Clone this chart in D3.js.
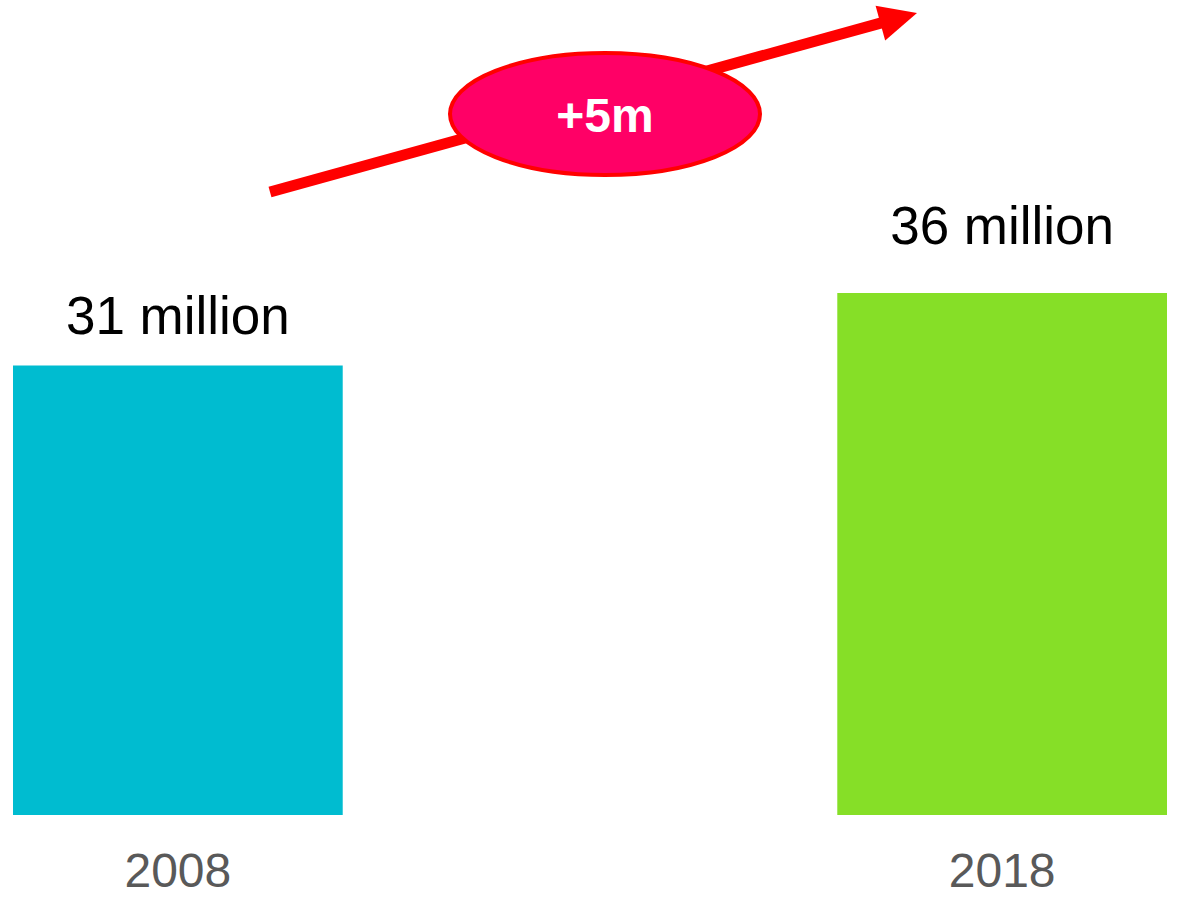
<!DOCTYPE html>
<html>
<head>
<meta charset="utf-8">
<script src="https://cdn.jsdelivr.net/npm/d3@7"></script>
<style>
  html, body { margin: 0; padding: 0; background: #fff; }
  svg { display: block; font-family: "Liberation Sans", Arial, sans-serif; }
</style>
</head>
<body>
<svg></svg>
<script>
var years = ["2008", "2018"];
var values = [31, 36];
var valueLabels = ["31 million", "36 million"];
var colors = ["#00BCD0", "#86DF27"];
var changeLabel = "+5m";

var width = 1179, height = 900;

var x = d3.scaleBand()
    .domain(years)
    .range([13, 1167])
    .paddingInner(0.6)
    .paddingOuter(0);

var y = d3.scaleLinear()
    .domain([0, 36])
    .range([815, 293]);

var svg = d3.select("svg")
    .attr("width", width)
    .attr("height", height);

svg.selectAll("rect.bar")
    .data(values)
    .enter().append("rect")
    .attr("class", "bar")
    .attr("x", function(d, i) { return x(years[i]); })
    .attr("y", function(d) { return y(d); })
    .attr("width", x.bandwidth())
    .attr("height", function(d) { return y(0) - y(d); })
    .style("fill", function(d, i) { return colors[i]; });

// value labels above bars (the second one sits a bit higher)
svg.selectAll("text.value")
    .data(values)
    .enter().append("text")
    .attr("class", "value")
    .attr("x", function(d, i) { return x(years[i]) + x.bandwidth() / 2; })
    .attr("y", function(d, i) { return y(d) - (i === 0 ? 32 : 49); })
    .attr("text-anchor", "middle")
    .style("font-size", "53px")
    .style("fill", "#000")
    .text(function(d, i) { return valueLabels[i]; });

// year labels below
var xAxis = svg.append("g")
    .attr("class", "axis axis--x");

xAxis.selectAll("text")
    .data(years)
    .enter().append("text")
    .attr("x", function(d) { return x(d) + x.bandwidth() / 2; })
    .attr("y", 887)
    .attr("text-anchor", "middle")
    .style("font-size", "48px")
    .style("fill", "#595959")
    .text(function(d) { return d; });

// trend arrow
var x0 = 270, y0 = 192, x1 = 917, y1 = 13;
var ang = Math.atan2(y1 - y0, x1 - x0);
var headLen = 38, headHalf = 18;
var bx = x1 - headLen * Math.cos(ang), by = y1 - headLen * Math.sin(ang);
var nx = -Math.sin(ang), ny = Math.cos(ang);

svg.append("line")
    .attr("x1", x0).attr("y1", y0)
    .attr("x2", bx + 2 * Math.cos(ang)).attr("y2", by + 2 * Math.sin(ang))
    .style("stroke", "#FF0000")
    .style("stroke-width", 11);

svg.append("polygon")
    .attr("points", [
        [x1, y1],
        [bx + nx * headHalf, by + ny * headHalf],
        [bx - nx * headHalf, by - ny * headHalf]
    ].map(function(p) { return p.join(","); }).join(" "))
    .style("fill", "#FF0000");

svg.append("ellipse")
    .attr("cx", 605).attr("cy", 114)
    .attr("rx", 155).attr("ry", 61)
    .style("fill", "#FF0066")
    .style("stroke", "#FF0000")
    .style("stroke-width", 4);

svg.append("text")
    .attr("x", 605)
    .attr("y", 132)
    .attr("text-anchor", "middle")
    .style("font-size", "48px")
    .style("font-weight", "bold")
    .style("fill", "#fff")
    .text(changeLabel);
</script>
</body>
</html>
